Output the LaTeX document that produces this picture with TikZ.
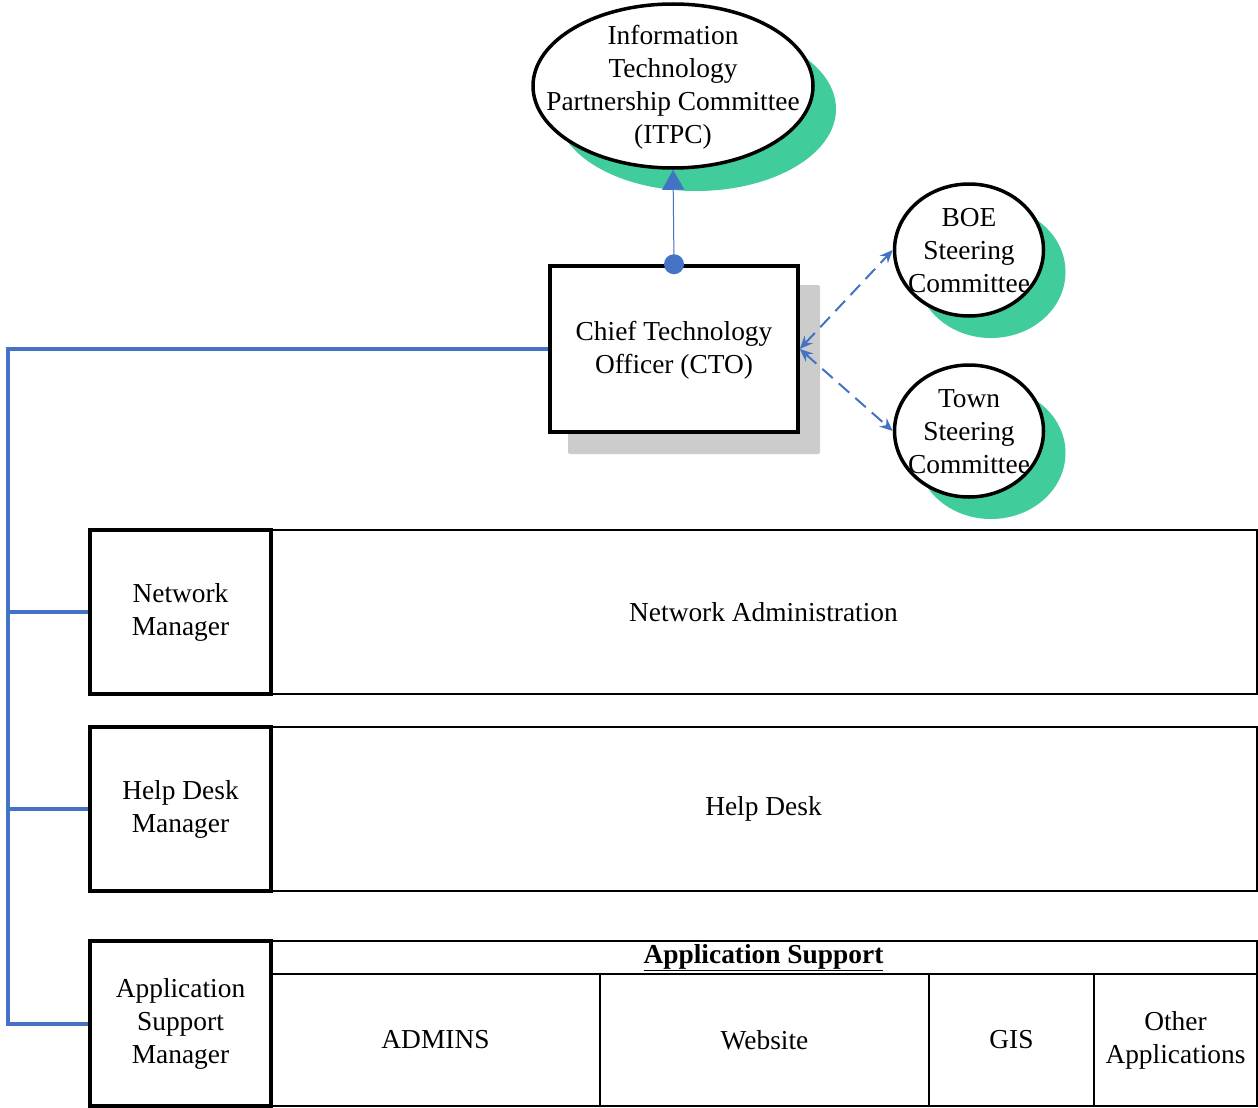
\documentclass[tikz,border=0pt]{standalone}
\usepackage{fontspec}
\setmainfont{Liberation Serif}
\usetikzlibrary{shapes.geometric,arrows.meta}
\definecolor{lineblue}{RGB}{68,114,196}
\definecolor{shgreen}{RGB}{64,205,155}
\definecolor{shgrey}{RGB}{204,204,204}
\begin{document}
\begin{tikzpicture}[x=1pt,y=-1pt,
  txt/.style={font=\fontsize{27.4}{33}\selectfont, align=center, inner sep=0pt},
  ellbox/.style={ellipse, draw=black, line width=3.5pt, fill=white, inner sep=0pt},
  ellshadow/.style={ellipse, fill=shgreen, inner sep=0pt},
  mgrbox/.style={draw=black, line width=3.5pt, minimum width=181pt, minimum height=164pt, inner sep=0pt, font=\fontsize{27.4}{33}\selectfont, align=center},
  areabox/.style={draw=black, line width=2pt, inner sep=0pt, font=\fontsize{27.4}{33}\selectfont, align=center},
  bus/.style={draw=lineblue, line width=4pt},
  dasharrow/.style={draw=lineblue, line width=2pt, dash pattern=on 14pt off 8pt, {Stealth[length=13pt,width=11pt]}-{Stealth[length=13pt,width=11pt]}},
  dotst/.style={circle, fill=lineblue, minimum size=20pt, inner sep=0pt}
]
\useasboundingbox (0,0) rectangle (1258,1108);

% ITPC
\node[ellshadow, minimum width=280pt, minimum height=164pt] (itpcsh) at (696,109) {};
\node[ellbox, minimum width=280pt, minimum height=164pt] (itpc) at (673,86) {};
\node[txt] (itpctxt) at (673,87) {Information\\Technology\\Partnership Committee\\(ITPC)};

% CTO
\fill[shgrey, rounded corners=2pt] (568,285) rectangle (820,454);
\node[draw=black, line width=3.5pt, fill=white, minimum width=248pt, minimum height=166pt, inner sep=0pt] (cto) at (674,349) {};
\node[txt] (ctotxt) at (674,350) {Chief Technology\\Officer (CTO)};

% BOE and Town
\node[ellshadow, minimum width=149pt, minimum height=132pt] (boesh) at (991,272) {};
\node[ellbox, minimum width=149pt, minimum height=132pt] (boe) at (969,250) {};
\node[txt] (boetxt) at (969,251) {BOE\\Steering\\Committee};
\node[ellshadow, minimum width=149pt, minimum height=132pt] (townsh) at (991,453) {};
\node[ellbox, minimum width=149pt, minimum height=132pt] (town) at (969,431) {};
\node[txt] (towntxt) at (969,432) {Town\\Steering\\Committee};

% connectors to ITPC
\node[dotst] (dot) at (cto.north) {};
\draw[draw=lineblue, line width=1pt, -{Triangle[length=20pt,width=22pt]}] (dot.center) -- (itpc.south);

\draw[dasharrow] (cto.east) -- (boe.west);
\draw[dasharrow] (cto.east) -- (town.west);

% manager rows
\node[areabox, minimum width=986pt, minimum height=164pt] (na) at (763.5,612) {Network Administration};
\node[mgrbox] (nm) at (180.5,612) {Network\\Manager};

\node[areabox, minimum width=986pt, minimum height=164pt] (hd) at (763.5,809) {Help Desk};
\node[mgrbox] (hdm) at (180.5,809) {Help Desk\\Manager};

\node[areabox, minimum width=986pt, minimum height=33pt] (ash) at (763.5,957.5) {\underline{\textbf{Application Support}}};
\node[areabox, minimum width=329pt, minimum height=132pt] (admins) at (435.5,1040) {ADMINS};
\node[areabox, minimum width=329pt, minimum height=132pt] (web) at (764.5,1040) {Website};
\node[areabox, minimum width=165pt, minimum height=132pt] (gis) at (1011.5,1040) {GIS};
\node[areabox, minimum width=163pt, minimum height=132pt] (other) at (1175.5,1040) {Other\\Applications};
\node[mgrbox, minimum height=165pt] (asm) at (180.5,1023.5) {Application\\Support\\Manager};

% bus
\coordinate (bustop) at (8,349);
\coordinate (busbot) at (8,1023.5);
\draw[bus] (cto.west) -- (bustop) -- (busbot) -- (asm.west);
\draw[bus] (nm.west) -- (nm.west -| bustop);
\draw[bus] (hdm.west) -- (hdm.west -| bustop);
\end{tikzpicture}
\end{document}
